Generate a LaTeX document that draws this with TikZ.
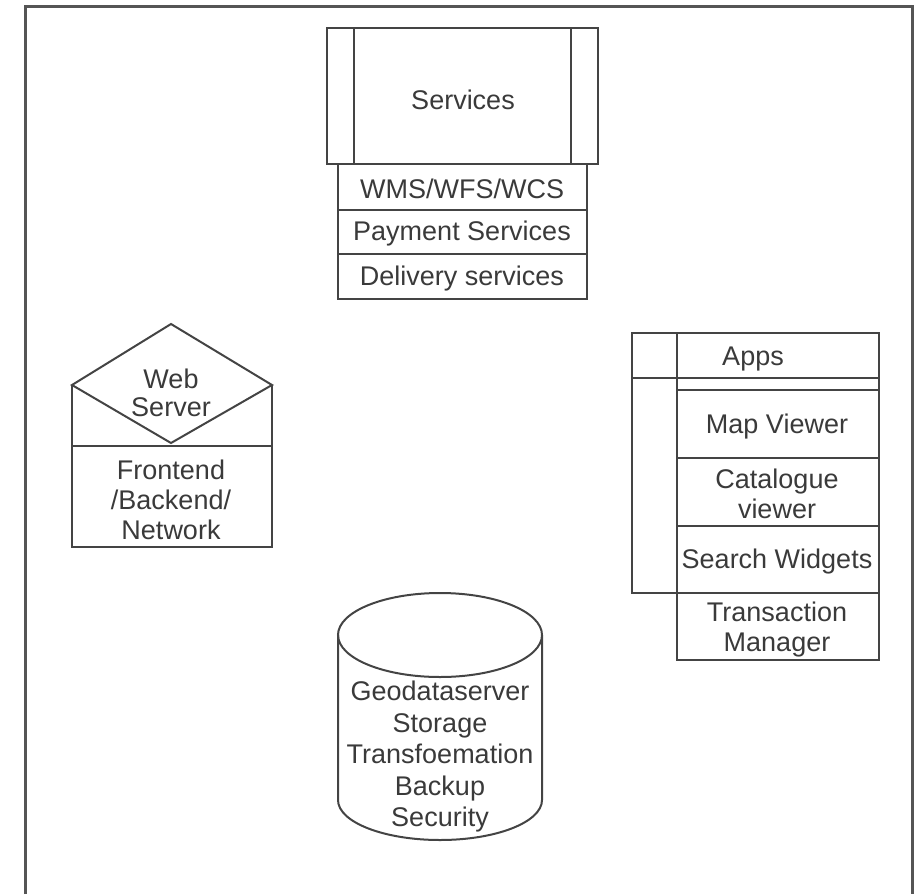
\documentclass[tikz,border=0pt]{standalone}
\usepackage{fontspec}
\setmainfont{Liberation Sans}
\definecolor{lineg}{HTML}{444444}
\definecolor{frameg}{HTML}{555555}
\definecolor{txt}{HTML}{3A3A3A}
\begin{document}
\begin{tikzpicture}[x=1pt,y=-1pt]
\tikzset{
  shp/.style={draw=lineg,line width=2pt,line join=miter},
  frm/.style={draw=frameg,line width=3pt},
  lbl/.style={text=txt,font=\fontsize{27}{30}\selectfont,align=center,inner sep=0pt,yshift=-2pt},
}
\useasboundingbox (0,0) rectangle (920,894);
% outer frame (bottom edge cut off)
\draw[frm] (25,894) -- (25,6) -- (912,6) -- (912,894);

% Services
\draw[shp] (327,28) rectangle (598,164);
\draw[shp] (354,28) -- (354,164);
\draw[shp] (571,28) -- (571,164);
\node[lbl] (services) at (463,98) {Services};
\draw[shp] (338,164) rectangle (587,299);
\draw[shp] (338,210) -- (587,210);
\draw[shp] (338,254) -- (587,254);
\node[lbl] (wms) at (462,187) {WMS/WFS/WCS};
\node[lbl] (pay) at (462,232) {Payment Services};
\node[lbl] (deliv) at (462,277) {Delivery services};

% Web server
\draw[shp] (171,324) -- (272,385) -- (171,443) -- (72,385) -- cycle;
\draw[shp] (72,385) -- (72,547) -- (272,547) -- (272,385);
\draw[shp] (72,446) -- (272,446);
\node[lbl,font=\fontsize{27}{28}\selectfont] (web) at (171,391) {Web\\Server};
\node[lbl] (front) at (171,498) {Frontend\\/Backend/\\Network};

% Apps
\draw[shp] (677,333) -- (879,333) -- (879,660) -- (677,660) -- cycle;
\draw[shp] (677,333) -- (632,333) -- (632,593) -- (677,593);
\draw[shp] (632,378) -- (879,378);
\draw[shp] (677,390) -- (879,390);
\draw[shp] (677,458) -- (879,458);
\draw[shp] (677,526) -- (879,526);
\draw[shp] (677,593) -- (879,593);
\node[lbl] (apps) at (753,357) {Apps};
\node[lbl] (map) at (777,425) {Map Viewer};
\node[lbl] (cat) at (777,492) {Catalogue\\viewer};
\node[lbl] (search) at (777,560) {Search Widgets};
\node[lbl] (trans) at (777,628) {Transaction\\Manager};

% Cylinder
\draw[shp] (440,635) ellipse [x radius=102, y radius=42];
\draw[shp] (338,635) -- (338,800) arc [start angle=180, end angle=0, x radius=102, y radius=40] -- (542,635);
\node[lbl,font=\fontsize{27}{31.5}\selectfont] (geo) at (440,755) {Geodataserver\\Storage\\Transfoemation\\Backup\\Security};
\end{tikzpicture}
\end{document}
